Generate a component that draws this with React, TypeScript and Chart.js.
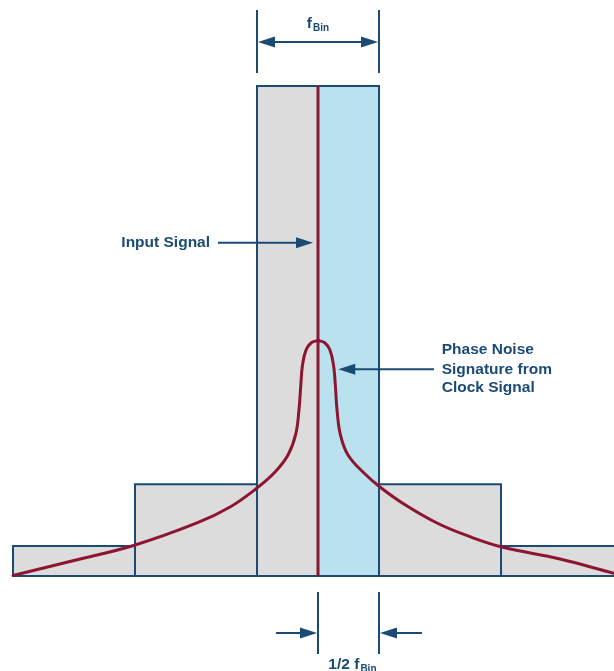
import React, { useEffect, useRef } from "react";
import { Chart, registerables } from "chart.js";

Chart.register(...registerables);

const NAVY = "#1b4a74";
const RED = "#8c1631";
const GRAY = "#dcdcdc";
const BLUE = "#b9e1ee";
const FONT = "'Liberation Sans', Arial, Helvetica, sans-serif";

// Frequency bins (in units of f_Bin, centred on the input signal) and their levels
const binCenters = [-2, -1, 0, 1, 2];
const binHeights = [6.1, 18.7, 100, 18.7, 6.1];
const binWidth = 1;
const signalLevel = 100;

// Phase-noise skirt (x in f_Bin units, y in relative amplitude)
const curveX = [
  -2.5, -2.0, -1.512, -0.992, -0.721, -0.5, -0.352, -0.246, -0.184, -0.156, -0.141,
  -0.127, -0.098, -0.055, 0, 0.055, 0.098, 0.127, 0.142, 0.156, 0.184, 0.246,
  0.377, 0.508, 0.697, 0.975, 1.246, 1.516, 1.984, 2.426, 2.508,
];
const curveY = [
  0.1, 3.16, 6.22, 10.82, 14.08, 17.96, 21.22, 24.69, 28.78, 33.88, 38.98,
  43.06, 46.12, 47.6, 48.06, 47.6, 46.12, 43.06, 38.98, 33.88, 28.78, 24.69,
  21.02, 18.16, 14.8, 10.82, 8.02, 5.86, 3.47, 0.55, 0.1,
];

// Text
const topLabel = ["f", "Bin"];
const bottomLabel = ["1/2 f", "Bin"];
const inputLabel = "Input Signal";
const phaseLabel = ["Phase Noise", "Signature from", "Clock Signal"];

// Axis ranges
const xMin = -2.6066;
const xMax = 2.4262;
const yMin = -19.388;
const yMax = 117.551;

const rect = (x0: number, x1: number, h: number) => [
  { x: x0, y: 0 },
  { x: x0, y: h },
  { x: x1, y: h },
  { x: x1, y: 0 },
];

function arrowHead(ctx: CanvasRenderingContext2D, tx: number, ty: number, dir: number) {
  const len = 17;
  const hw = 5.5;
  ctx.beginPath();
  ctx.moveTo(tx, ty);
  ctx.lineTo(tx - dir * len, ty - hw);
  ctx.lineTo(tx - dir * len, ty + hw);
  ctx.closePath();
  ctx.fill();
}

function hArrow(ctx: CanvasRenderingContext2D, x0: number, x1: number, y: number) {
  const dir = x1 > x0 ? 1 : -1;
  ctx.beginPath();
  ctx.moveTo(x0, y);
  ctx.lineTo(x1 - dir * 10, y);
  ctx.stroke();
  arrowHead(ctx, x1, y, dir);
}

const annotationPlugin = {
  id: "annotations",
  afterDraw(chart: any) {
    const ctx: CanvasRenderingContext2D = chart.ctx;
    const xs = chart.scales.x;
    const ys = chart.scales.y;
    const X = (v: number) => xs.getPixelForValue(v);
    const Y = (v: number) => ys.getPixelForValue(v);
    ctx.save();
    ctx.strokeStyle = NAVY;
    ctx.fillStyle = NAVY;
    ctx.lineWidth = 2;

    // top f_Bin dimension
    const l = X(-binWidth / 2);
    const r = X(binWidth / 2);
    ctx.beginPath();
    ctx.moveTo(l, Y(115.5));
    ctx.lineTo(l, Y(102.65));
    ctx.moveTo(r, Y(115.5));
    ctx.lineTo(r, Y(102.65));
    ctx.stroke();
    const ay = Y(108.98);
    ctx.beginPath();
    ctx.moveTo(l + 10, ay);
    ctx.lineTo(r - 10, ay);
    ctx.stroke();
    arrowHead(ctx, l + 1, ay, -1);
    arrowHead(ctx, r - 1, ay, 1);

    ctx.textBaseline = "alphabetic";
    ctx.font = `bold 15.5px ${FONT}`;
    const fW = ctx.measureText(topLabel[0]).width;
    ctx.font = `bold 10px ${FONT}`;
    const bW = ctx.measureText(topLabel[1]).width;
    const cx = X(0);
    const tStart = cx - (fW + bW + 1) / 2;
    ctx.font = `bold 15.5px ${FONT}`;
    ctx.textAlign = "left";
    ctx.fillText(topLabel[0], tStart, Y(111.84));
    ctx.font = `bold 10px ${FONT}`;
    ctx.fillText(topLabel[1], tStart + fW + 1, Y(111.84) + 3);

    // bottom 1/2 f_Bin dimension
    const c0 = X(0);
    const c1 = X(binWidth / 2);
    ctx.beginPath();
    ctx.moveTo(c0, Y(-3.27));
    ctx.lineTo(c0, Y(-15.9));
    ctx.moveTo(c1, Y(-3.27));
    ctx.lineTo(c1, Y(-15.9));
    ctx.stroke();
    const by = Y(-11.63);
    hArrow(ctx, X(-0.344), c0 - 1, by);
    hArrow(ctx, X(0.852), c1 + 1, by);
    ctx.font = `bold 15.5px ${FONT}`;
    const bx = X(0.085);
    ctx.fillText(bottomLabel[0], bx, Y(-18.98));
    const w1 = ctx.measureText(bottomLabel[0]).width;
    ctx.font = `bold 10px ${FONT}`;
    ctx.fillText(bottomLabel[1], bx + w1 + 1, Y(-18.98) + 3);

    // Input Signal
    ctx.font = `bold 15.5px ${FONT}`;
    ctx.textBaseline = "middle";
    ctx.textAlign = "right";
    const iy = Y(68.0);
    ctx.fillText(inputLabel, X(-0.885), iy);
    hArrow(ctx, X(-0.82), X(-0.041), iy);

    // Phase noise
    const py = Y(42.2);
    hArrow(ctx, X(0.951), X(0.166), py);
    ctx.textAlign = "left";
    const lineYs = [46.1, 42.2, 38.5];
    phaseLabel.forEach((t, i) => ctx.fillText(t, X(1.014), Y(lineYs[i])));
    ctx.restore();
  },
};

export default function App() {
  const ref = useRef<HTMLCanvasElement>(null);
  useEffect(() => {
    if (!ref.current) return;
    const sideBars = binCenters
      .map((c, i) => ({ c, h: binHeights[i] }))
      .filter((b) => b.c !== 0)
      .map((b) => ({
        data: rect(b.c - binWidth / 2, b.c + binWidth / 2, b.h),
        borderColor: NAVY,
        borderWidth: 2,
        backgroundColor: GRAY,
        fill: "origin",
        pointRadius: 0,
        tension: 0,
      }));
    const centerH = binHeights[binCenters.indexOf(0)];
    const pts = curveX.map((x, i) => ({ x, y: curveY[i] }));
    const peak = curveY.indexOf(Math.max(...curveY));
    const curveStyle = {
      borderColor: RED,
      borderWidth: 3,
      pointRadius: 0,
      fill: false,
      tension: 0.4,
      borderCapStyle: "round",
      borderJoinStyle: "round",
    };
    const chart = new Chart(ref.current, {
      type: "line",
      data: {
        datasets: [
          { data: pts.slice(0, peak + 1), ...curveStyle },
          { data: pts.slice(peak), ...curveStyle },
          {
            data: [
              { x: 0, y: 0 },
              { x: 0, y: signalLevel },
            ],
            borderColor: RED,
            borderWidth: 3,
            pointRadius: 0,
            fill: false,
          },
          {
            data: rect(-binWidth / 2, binWidth / 2, centerH),
            borderColor: NAVY,
            borderWidth: 2,
            pointRadius: 0,
            fill: false,
            tension: 0,
          },
          {
            data: [
              { x: -2.5, y: 0 },
              { x: 2.5, y: 0 },
            ],
            borderColor: NAVY,
            borderWidth: 2,
            pointRadius: 0,
            fill: false,
          },
          ...sideBars,
          {
            data: rect(0, binWidth / 2, centerH),
            borderColor: "rgba(0,0,0,0)",
            borderWidth: 1,
            backgroundColor: BLUE,
            fill: "origin",
            pointRadius: 0,
            tension: 0,
          },
          {
            data: rect(-binWidth / 2, 0, centerH),
            borderColor: "rgba(0,0,0,0)",
            borderWidth: 1,
            backgroundColor: GRAY,
            fill: "origin",
            pointRadius: 0,
            tension: 0,
          },
        ] as any,
      },
      options: {
        animation: false,
        responsive: false,
        maintainAspectRatio: false,
        layout: { padding: 0 },
        plugins: { legend: { display: false }, tooltip: { enabled: false } },
        scales: {
          x: { type: "linear", min: xMin, max: xMax, display: false },
          y: { type: "linear", min: yMin, max: yMax, display: false },
        },
      },
      plugins: [annotationPlugin],
    });
    return () => chart.destroy();
  }, []);
  return (
    <div style={{ position: "absolute", left: 0, top: 0, width: 614, height: 671, background: "#fff" }}>
      <canvas ref={ref} width={614} height={671} style={{ display: "block" }} />
    </div>
  );
}
